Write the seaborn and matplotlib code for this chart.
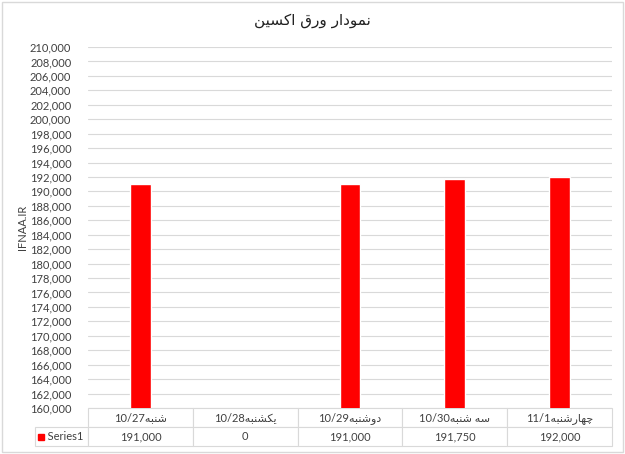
import matplotlib
matplotlib.use('Agg')
import matplotlib.pyplot as plt
import seaborn as sns
import numpy as np
from matplotlib.patches import Rectangle

# داده‌ها
days = ['شنبه', 'یکشنبه', 'دوشنبه', 'سه شنبه', 'چهارشنبه']
dates = ['10/27', '10/28', '10/29', '10/30', '11/1']
prices = [191000, 0, 191000, 191750, 192000]
price_labels = ['191,000', '0', '191,000', '191,750', '192,000']
series_name = 'Series1'
title = 'نمودار ورق اکسین'
y_label = 'IFNAA.IR'

# شکل‌دهی ساده حروف فارسی (matplotlib خودش این کار را نمی‌کند)
FORMS = {
    'ا': ('\uFE8D', '\uFE8E'), 'د': ('\uFEA9', '\uFEAA'),
    'ر': ('\uFEAD', '\uFEAE'), 'و': ('\uFEED', '\uFEEE'),
    'ب': ('\uFE8F', '\uFE90', '\uFE91', '\uFE92'),
    'س': ('\uFEB1', '\uFEB2', '\uFEB3', '\uFEB4'),
    'ش': ('\uFEB5', '\uFEB6', '\uFEB7', '\uFEB8'),
    'ق': ('\uFED5', '\uFED6', '\uFED7', '\uFED8'),
    'م': ('\uFEE1', '\uFEE2', '\uFEE3', '\uFEE4'),
    'ن': ('\uFEE5', '\uFEE6', '\uFEE7', '\uFEE8'),
    'ه': ('\uFEE9', '\uFEEA', '\uFEEB', '\uFEEC'),
    'چ': ('\uFB7A', '\uFB7B', '\uFB7C', '\uFB7D'),
    'ک': ('\uFB8E', '\uFB8F', '\uFB90', '\uFB91'),
    'ی': ('\uFBFC', '\uFBFD', '\uFBFE', '\uFBFF'),
}


def rtl(text):
    out = []
    for i, ch in enumerate(text):
        if ch not in FORMS:
            out.append(ch)
            continue
        prev = text[i - 1] if i > 0 else ''
        nxt = text[i + 1] if i + 1 < len(text) else ''
        j_prev = prev in FORMS and len(FORMS[prev]) == 4
        j_next = nxt in FORMS and len(FORMS[ch]) == 4
        f = FORMS[ch]
        if j_prev and j_next:
            out.append(f[3])
        elif j_prev:
            out.append(f[1])
        elif j_next:
            out.append(f[2])
        else:
            out.append(f[0])
    return ''.join(reversed(out))


cats = [d + rtl(w) for d, w in zip(dates, days)]

sns.set_style('white')
plt.rcParams['font.family'] = ['Lato', 'DejaVu Sans']

fig = plt.figure(figsize=(6.25, 4.54), dpi=100)
ax = fig.add_axes([0.1408, 0.1013, 0.8384, 0.7952])
fig.patches.append(Rectangle((0.003, 0.004), 0.994, 0.992, transform=fig.transFigure,
                             fill=False, edgecolor='#d9d9d9', linewidth=1))

sns.barplot(x=cats, y=prices, color='#ff0000', width=0.2, saturation=1, ax=ax, zorder=3)

ax.set_ylim(160000, 210000)
ax.set_yticks(np.arange(160000, 210001, 2000))
ax.yaxis.set_major_formatter(matplotlib.ticker.StrMethodFormatter('{x:,.0f}'))
ax.tick_params(axis='y', labelsize=8, length=0, pad=12, colors='#404040')
ax.set_xticks([])
ax.set_xlabel('')
ax.grid(axis='y', color='#d9d9d9', linewidth=0.8, zorder=0)
ax.set_xlim(-0.5, 4.5)
for s in ax.spines.values():
    s.set_visible(False)

ax.set_ylabel(y_label, fontsize=8, color='#404040')
ax.yaxis.set_label_coords(-0.115, 0.5)
fig.text(0.5, 0.955, rtl(title), fontsize=11, color='#202020', ha='center', va='center',
         family=['DejaVu Sans'])

# جدول داده زیر نمودار
tbl = ax.table(cellText=[[''] + cats, ['    ' + series_name] + price_labels],
               colWidths=[0.101] + [0.2] * 5, cellLoc='center',
               bbox=[-0.101, -0.106, 1.101, 0.106])
tbl.auto_set_font_size(False)
for (r, c), cell in tbl.get_celld().items():
    cell.set_edgecolor('#d9d9d9')
    cell.set_linewidth(0.8)
    cell.get_text().set_fontsize(8)
    cell.get_text().set_color('#404040')
tbl[0, 0].visible_edges = ''
tbl[1, 0].get_text().set_horizontalalignment('left')
tbl[1, 0].PAD = 0.02
ax.plot([-0.09], [-0.079], marker='s', color='#ff0000', markersize=5,
        transform=ax.transAxes, clip_on=False)

fig.savefig('out.png', dpi=100)
